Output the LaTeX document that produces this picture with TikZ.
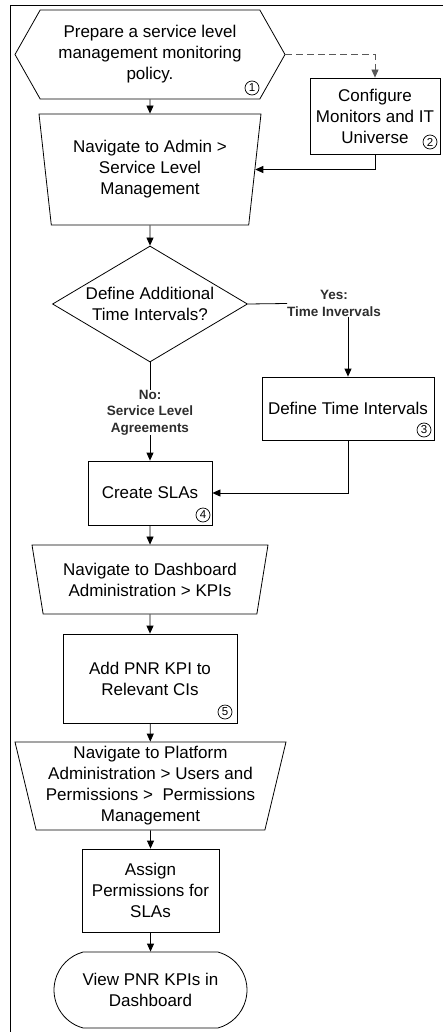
\documentclass[tikz,border=0pt]{standalone}
\usepackage{fontspec}
\setmainfont{Liberation Sans}
\usetikzlibrary{shapes.geometric,shapes.symbols,shapes.misc,arrows.meta}
\definecolor{txtgray}{RGB}{45,45,45}
\tikzset{
	every node/.style={font=\fontsize{17}{21}\selectfont, text=txtgray, align=center, inner sep=0pt},
	flowline/.style={line width=0.8pt, black},
	flowarrow/.style={flowline, -{Triangle[length=8pt,width=7pt]}},
	procbox/.style={draw, flowline, rectangle},
	navtrap/.style={draw, flowline, trapezium, shape border rotate=180, trapezium stretches body},
	edgelabel/.style={font=\bfseries\fontsize{13.5}{16.5}\selectfont},
	numtag/.style={draw, circle, line width=0.7pt, minimum size=14pt, font=\fontsize{11.5}{11.5}\selectfont, text=black}
}
\begin{document}
\begin{tikzpicture}[x=1pt,y=-1pt]
	\useasboundingbox (0,0) rectangle (447,1032);
	\draw[flowline] (443,5) -- (10,5) -- (10,1032);
	
	\node[draw, flowline, signal, signal to=west and east, signal pointer angle=121, minimum width=270, minimum height=89] (prep) at (150,54.5) {Prepare a service level\\management monitoring\\policy.};
	\node[procbox, minimum width=130, minimum height=76] (cfg) at (375,116) {Configure\\Monitors and IT\\Universe};
	\node[navtrap, trapezium angle=78, minimum width=222, minimum height=111] (nav1) at (150,169.5) {Navigate to Admin >\\Service Level\\Management};
	\node[draw, flowline, diamond, aspect=1.68, minimum width=195, minimum height=116] (dec) at (150,304) {Define Additional\\Time Intervals?};
	\node[edgelabel] (yes) at (334,303.5) {Yes:\\Time Invervals};
	\node[procbox, minimum width=172, minimum height=63] (dti) at (348,408.5) {Define Time Intervals};
	\node[edgelabel] (no) at (150,412.5) {No:\\Service Level\\Agreements};
	\node[procbox, minimum width=124, minimum height=64] (sla) at (150,493) {Create SLAs};
	\node[navtrap, trapezium angle=71.6, minimum width=236, minimum height=69] (nav2) at (150,579.5) {Navigate to Dashboard\\Administration > KPIs};
	\node[procbox, minimum width=174, minimum height=89] (kpi) at (150,678.5) {Add PNR KPI to\\Relevant CIs};
	\node[navtrap, trapezium angle=75, minimum width=271, minimum height=88] (nav3) at (150.5,786) {Navigate to Platform\\Administration > Users and\\Permissions >\ \ Permissions\\Management};
	\node[procbox, minimum width=137, minimum height=83] (perm) at (150.5,890.5) {Assign\\Permissions for\\SLAs};
	\node[draw, flowline, rounded rectangle, rounded rectangle arc length=150, minimum width=193, minimum height=76] (view) at (150.5,990) {View PNR KPIs in\\Dashboard};
	
	% step numbers
	\node[numtag] (n1) at (252,88) {1};
	\node[numtag] (n2) at (430,142) {2};
	\node[numtag] (n3) at (424,430) {3};
	\node[numtag] (n4) at (203,515) {4};
	\node[numtag] (n5) at (225,712) {5};
	
	\draw[flowarrow, dashed, dash pattern=on 7pt off 4pt, gray!70!black] (prep.east) -| (cfg.north);
	\draw[flowarrow] (prep) -- (nav1);
	\draw[flowarrow] (cfg.south) |- (nav1);
	\draw[flowarrow] (nav1) -- (dec);
	\draw[flowline] (dec.east) -- (yes.west);
	\draw[flowarrow] (yes.south -| dti.north) -- (dti.north);
	\draw[flowline] (dec.south) -- (no.north);
	\draw[flowarrow] (no) -- (sla);
	\draw[flowarrow] (dti.south) |- (sla);
	\draw[flowarrow] (sla) -- (nav2);
	\draw[flowarrow] (nav2) -- (kpi);
	\draw[flowarrow] (kpi) -- (nav3);
	\draw[flowarrow] (nav3) -- (perm);
	\draw[flowarrow] (perm) -- (view);
\end{tikzpicture}
\end{document}
